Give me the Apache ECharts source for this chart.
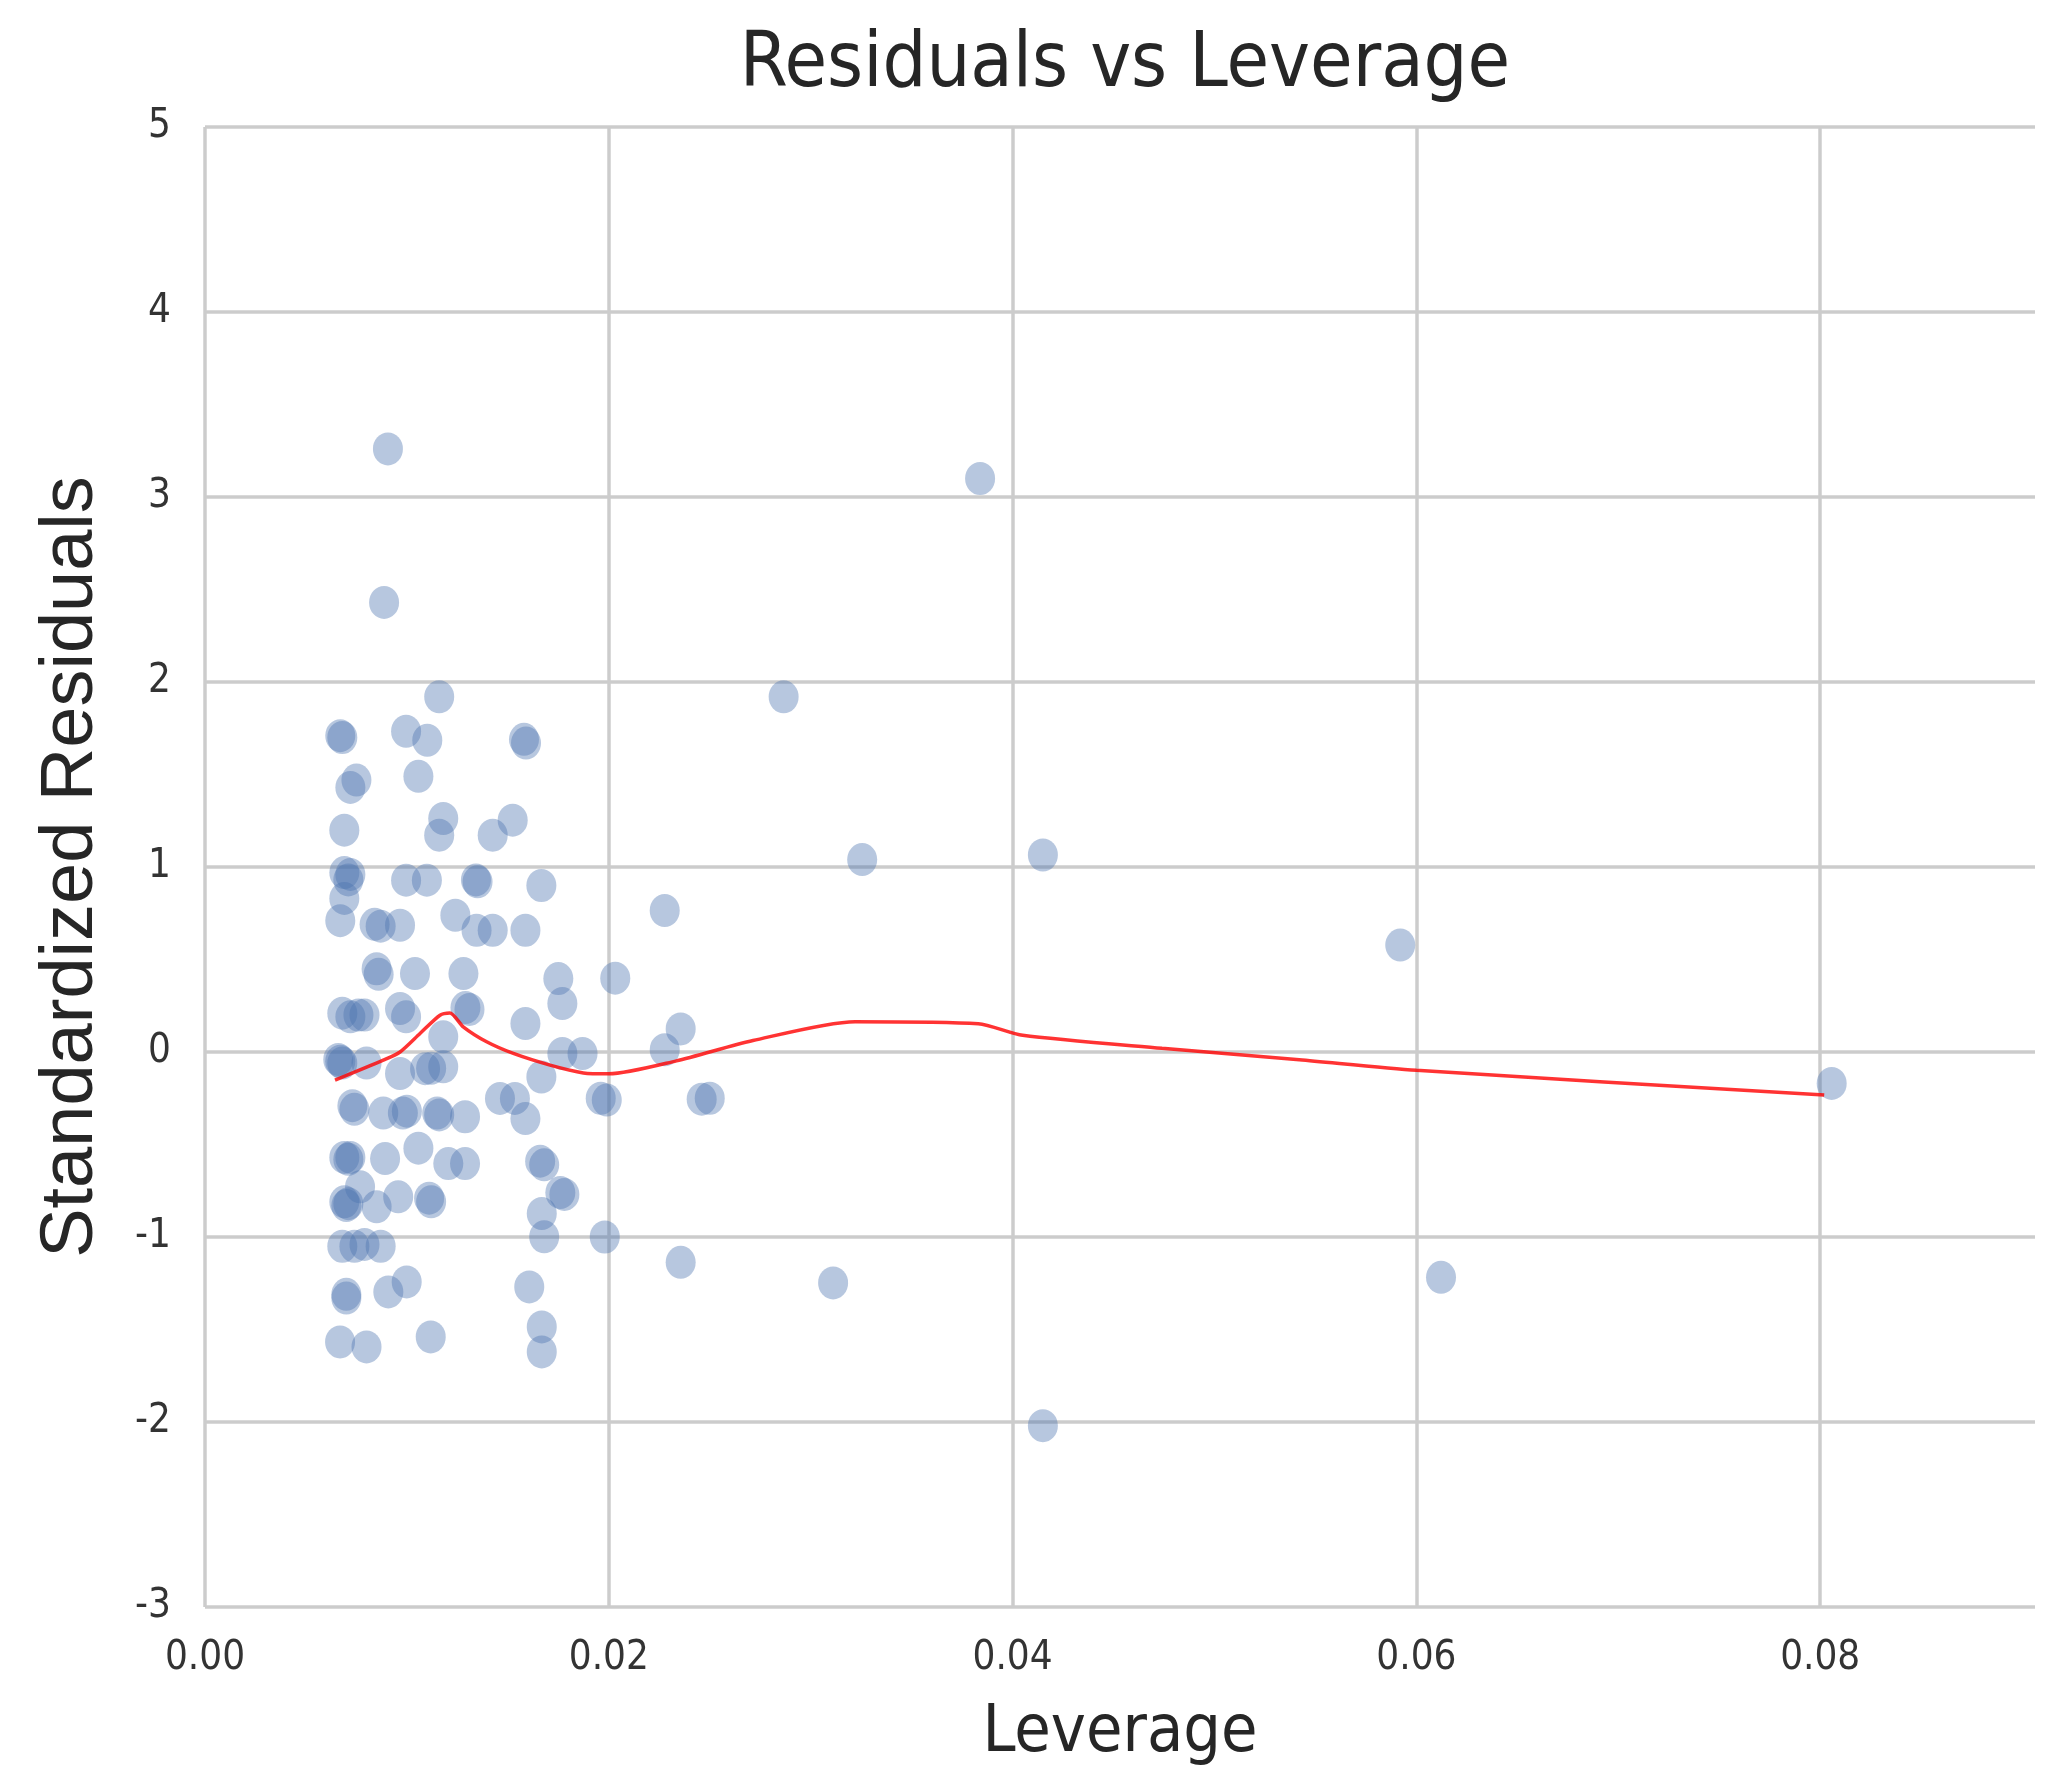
<!DOCTYPE html>
<html>
<head>
<meta charset="utf-8">
<title>Residuals vs Leverage</title>
<script src="https://cdn.jsdelivr.net/npm/echarts@6/dist/echarts.min.js"></script>
<style>
  html, body { margin: 0; padding: 0; background: #fff; }
  #main { width: 2049px; height: 1770px; }
</style>
</head>
<body>
<div id="main"></div>
<script>
// leverage (x) and standardized residual (y) for each observation
const leverage = [
  0.00906, 0.00887, 0.0116, 0.02866, 0.03839, 0.03255, 0.0415, 0.0592, 0.08057, 0.06122,
  0.0415, 0.03111, 0.02356, 0.0198, 0.02277, 0.02032, 0.02356, 0.02277, 0.0196, 0.0199,
  0.0246, 0.0250,
  0.0067, 0.0068, 0.00996, 0.01101, 0.0158, 0.0159, 0.0075, 0.0072, 0.01057, 0.0118,
  0.0116, 0.01425, 0.01524, 0.0069, 0.0069, 0.0072, 0.0071, 0.0069, 0.0067, 0.00996,
  0.01099, 0.01342, 0.0135, 0.01666, 0.0084, 0.0087, 0.00966, 0.0124, 0.01345, 0.01425,
  0.01587, 0.0085, 0.0086, 0.0104, 0.0128, 0.0175, 0.0177, 0.0068, 0.0072, 0.0076,
  0.0079, 0.00966, 0.00996, 0.0129, 0.0131, 0.0118, 0.01587, 0.0177, 0.0187, 0.0067,
  0.0068, 0.0066, 0.008, 0.00966, 0.0109, 0.0112, 0.0118, 0.01666, 0.0073, 0.0074,
  0.00883, 0.0098, 0.0100, 0.0115, 0.0116, 0.01288, 0.01461, 0.01535, 0.01587,
  0.0069, 0.0071, 0.0072, 0.00892, 0.01057, 0.01205, 0.01288, 0.0166, 0.0168, 0.0176,
  0.0178, 0.0069, 0.0070, 0.0071, 0.00768, 0.0085, 0.00957, 0.0111, 0.0112, 0.01668,
  0.0168, 0.0068, 0.0074, 0.0079, 0.0087, 0.0070, 0.0070, 0.00908, 0.00999, 0.01606,
  0.00669, 0.008, 0.01118, 0.01668, 0.01668
];
const residuals = [
  3.26, 2.43, 1.92, 1.92, 3.10, 1.04, 1.065, 0.578, -0.17, -1.218,
  -2.02, -1.248, -1.137, -1.0, 0.765, 0.399, 0.125, 0.012, -0.25, -0.26,
  -0.255, -0.25,
  1.71, 1.70, 1.734, 1.685, 1.69, 1.67, 1.47, 1.43, 1.49, 1.262,
  1.172, 1.172, 1.253, 1.199, 0.97, 0.96, 0.93, 0.83, 0.71, 0.929,
  0.929, 0.93, 0.92, 0.90, 0.69, 0.68, 0.685, 0.739, 0.658, 0.658,
  0.658, 0.45, 0.42, 0.424, 0.424, 0.397, 0.262, 0.21, 0.19, 0.20,
  0.20, 0.235, 0.19, 0.24, 0.23, 0.082, 0.154, -0.008, -0.008, -0.05,
  -0.06, -0.04, -0.06, -0.116, -0.09, -0.088, -0.08, -0.135, -0.29, -0.31,
  -0.33, -0.33, -0.32, -0.33, -0.34, -0.35, -0.251, -0.251, -0.36,
  -0.57, -0.58, -0.57, -0.576, -0.52, -0.603, -0.603, -0.59, -0.61, -0.76,
  -0.77, -0.81, -0.83, -0.82, -0.729, -0.837, -0.783, -0.79, -0.81, -0.873,
  -0.999, -1.05, -1.05, -1.04, -1.05, -1.31, -1.33, -1.297, -1.243, -1.27,
  -1.567, -1.594, -1.54, -1.486, -1.621
];

// lowess fit
const lowessX = [0.00644, 0.00883, 0.00966, 0.01065, 0.01164, 0.01213, 0.01279, 0.01395, 0.01527,
  0.01709, 0.01874, 0.0200, 0.02335, 0.02714, 0.0322, 0.0383, 0.0405, 0.0474, 0.0542, 0.0600, 0.0802];
const lowessY = [-0.152, -0.044, 0.0, 0.10, 0.199, 0.211, 0.136, 0.055, -0.008,
  -0.071, -0.113, -0.118, -0.048, 0.062, 0.164, 0.153, 0.09, 0.02, -0.042, -0.099, -0.232];

const narrow = "'Liberation Sans Narrow', 'DejaVu Sans Condensed', 'Liberation Sans', sans-serif";

const chart = echarts.init(document.getElementById('main'));
chart.setOption({
  animation: false,
  backgroundColor: '#ffffff',
  title: {
    text: 'Residuals vs Leverage',
    left: 1120,
    textAlign: 'center',
    top: 22,
    textStyle: { fontFamily: narrow, fontSize: 77, fontWeight: 'normal', color: '#262626' }
  },
  grid: { left: 205, right: 14, top: 127, bottom: 163, outerBoundsMode: 'none' },
  xAxis: {
    type: 'value',
    min: 0,
    max: 0.09064,
    interval: 0.02,
    name: 'Leverage',
    nameLocation: 'middle',
    nameGap: 94,
    nameTextStyle: { fontFamily: narrow, fontSize: 66, color: '#262626' },
    axisLine: { show: false },
    axisTick: { show: false },
    axisLabel: {
      showMaxLabel: false,
      margin: 32,
      fontFamily: narrow,
      fontSize: 40,
      color: '#333',
      formatter: v => v.toFixed(2)
    },
    splitLine: { show: true, showMaxLine: false, lineStyle: { color: '#cccccc', width: 3.5 } }
  },
  yAxis: {
    type: 'value',
    min: -3,
    max: 5,
    interval: 1,
    name: 'Standardized Residuals',
    nameLocation: 'middle',
    nameGap: 96,
    nameTextStyle: { fontFamily: "'Liberation Sans', sans-serif", fontSize: 74, color: '#262626' },
    axisLine: { show: false },
    axisTick: { show: false },
    axisLabel: { margin: 34, fontFamily: narrow, fontSize: 40, color: '#333' },
    splitLine: { show: true, lineStyle: { color: '#cccccc', width: 3.5 } }
  },
  series: [
    {
      type: 'scatter',
      data: leverage.map((x, i) => [x, residuals[i]]),
      symbol: 'circle',
      symbolSize: [30, 33],
      itemStyle: { color: 'rgba(76,114,176,0.5)' },
      z: 2
    },
    {
      type: 'line',
      data: lowessX.map((x, i) => [x, lowessY[i]]),
      showSymbol: false,
      smooth: 0.25,
      lineStyle: { color: 'rgba(255,0,0,0.8)', width: 3.5 },
      z: 3
    }
  ]
});
</script>
</body>
</html>
